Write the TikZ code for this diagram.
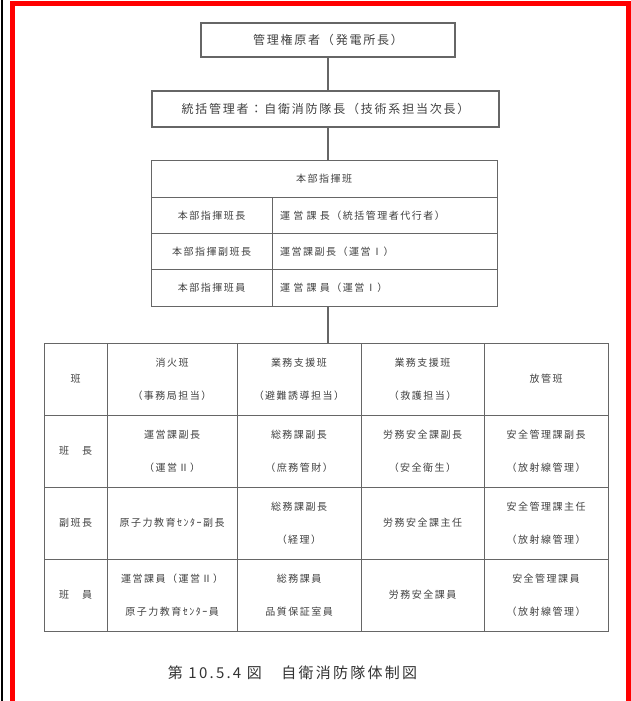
\documentclass[tikz,border=0pt]{standalone}
\usepackage{fontspec}
\setmainfont{Noto Sans CJK JP}
\newfontfamily\jpfont{Noto Sans CJK JP}[LetterSpace=15]
\begin{document}
\begin{tikzpicture}[x=1pt,y=-1pt,
    frame/.style={draw=black!60,line width=1.2pt,inner sep=0pt,text=black!75},
    topbox/.style={frame,font=\jpfont\fontsize{12}{14}\selectfont},
    hqbox/.style={frame,line width=1pt,font=\jpfont\fontsize{10}{12}\selectfont,minimum height=36.25pt},
    hqtext/.style={hqbox,minimum width=225pt,text width=209pt,inner xsep=8pt,align=left},
    cellbox/.style={frame,line width=1pt,font=\jpfont\fontsize{10}{33}\selectfont,align=center,minimum height=72pt},
    link/.style={draw=black!60,line width=1.2pt}]
    \useasboundingbox (0,0) rectangle (631,701);
    \draw[black,line width=2pt] (2,0) -- (2,701);
    \draw[red,line width=5pt] (12.5,701) -- (12.5,3.5) -- (628.5,3.5) -- (628.5,701);

    \node[topbox,minimum width=254pt,minimum height=34pt] (chief) at (328,40) {管理権原者（発電所長）};
    \node[topbox,minimum width=347pt,minimum height=36pt] (leader) at (325.5,109) {統括管理者：自衛消防隊長（技術系担当次長）};

    \node[hqbox,minimum width=346pt] (hq) at (324,179.1) {本部指揮班};
    \node[hqbox,minimum width=121pt] (hqa) at (211.5,215.4) {本部指揮班長};
    \node[hqtext] (hqaR) at (384.5,215.4) {運 営 課 長（統括管理者代行者）};
    \node[hqbox,minimum width=121pt] (hqb) at (211.5,251.6) {本部指揮副班長};
    \node[hqtext] (hqbR) at (384.5,251.6) {運営課副長（運営Ⅰ）};
    \node[hqbox,minimum width=121pt] (hqc) at (211.5,287.9) {本部指揮班員};
    \node[hqtext] (hqcR) at (384.5,287.9) {運 営 課 員（運営Ⅰ）};

    \node[cellbox,minimum width=63pt] (hd0) at (75.5,379) {班};
    \node[cellbox,minimum width=130pt] (hd1) at (172,379) {消火班\\（事務局担当）};
    \node[cellbox,minimum width=124pt] (hd2) at (299,379) {業務支援班\\（避難誘導担当）};
    \node[cellbox,minimum width=123pt] (hd3) at (422.5,379) {業務支援班\\（救護担当）};
    \node[cellbox,minimum width=124pt] (hd4) at (546,379) {放管班};

    \node[cellbox,minimum width=63pt] (ch0) at (75.5,451) {班　長};
    \node[cellbox,minimum width=130pt] (ch1) at (172,451) {運営課副長\\（運営Ⅱ）};
    \node[cellbox,minimum width=124pt] (ch2) at (299,451) {総務課副長\\（庶務管財）};
    \node[cellbox,minimum width=123pt] (ch3) at (422.5,451) {労務安全課副長\\（安全衛生）};
    \node[cellbox,minimum width=124pt] (ch4) at (546,451) {安全管理課副長\\（放射線管理）};

    \node[cellbox,minimum width=63pt] (sc0) at (75.5,523) {副班長};
    \node[cellbox,minimum width=130pt] (sc1) at (172,523) {原子力教育ｾﾝﾀｰ副長};
    \node[cellbox,minimum width=124pt] (sc2) at (299,523) {総務課副長\\（経理）};
    \node[cellbox,minimum width=123pt] (sc3) at (422.5,523) {労務安全課主任};
    \node[cellbox,minimum width=124pt] (sc4) at (546,523) {安全管理課主任\\（放射線管理）};

    \node[cellbox,minimum width=63pt] (mb0) at (75.5,595) {班　員};
    \node[cellbox,minimum width=130pt] (mb1) at (172,595) {運営課員（運営Ⅱ）\\原子力教育ｾﾝﾀｰ員};
    \node[cellbox,minimum width=124pt] (mb2) at (299,595) {総務課員\\品質保証室員};
    \node[cellbox,minimum width=123pt] (mb3) at (422.5,595) {労務安全課員};
    \node[cellbox,minimum width=124pt] (mb4) at (546,595) {安全管理課員\\（放射線管理）};

    \node[font=\jpfont\fontsize{15}{18}\selectfont,text=black!80] (cap) at (292.5,673) {第 10.5.4 図　自衛消防隊体制図};

    \draw[link] (chief) -- (chief |- leader.north);
    \draw[link] (leader.south -| chief) -- (hq.north -| chief);
    \draw[link] (hqcR.south -| chief) -- (hd2.north -| chief);
\end{tikzpicture}
\end{document}
